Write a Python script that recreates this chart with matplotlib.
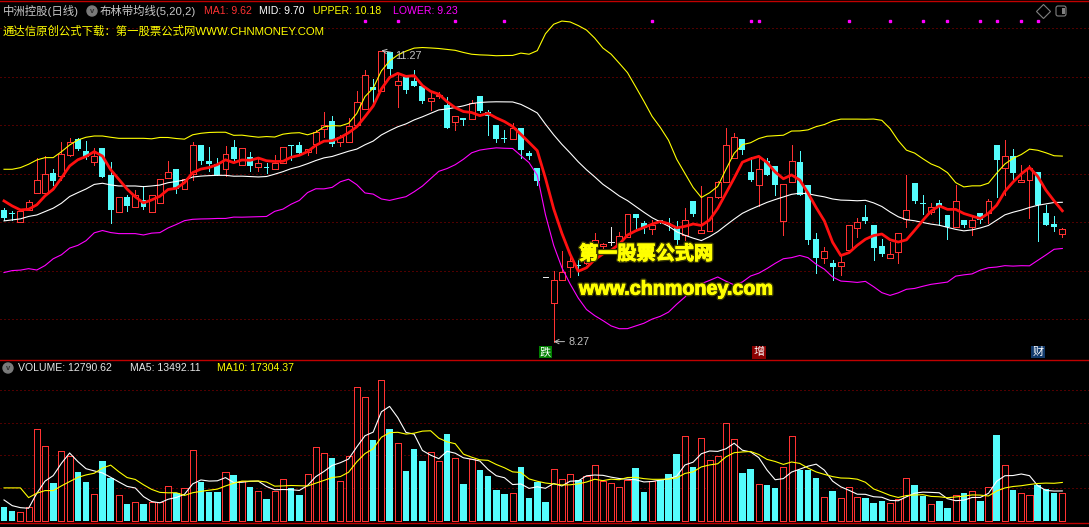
import numpy as np
import pandas as pd
import matplotlib
matplotlib.use('Agg')
import matplotlib.pyplot as plt
import matplotlib.transforms as mtransforms
import matplotlib.patheffects as pe
from matplotlib.patches import FancyBboxPatch, Circle

plt.rcParams['font.family'] = ['Liberation Sans', 'Noto Sans CJK SC', 'DejaVu Sans']

# daily candles (130 days)
opens = [9.63, 9.60, 9.50, 9.63, 9.80, 9.80, 10.01, 9.98, 10.19, 10.36,
         10.23, 10.12, 10.27, 9.99, 9.61, 9.76, 9.66, 9.73, 9.61, 9.70,
         9.96, 10.05, 9.84, 10.00, 10.30, 10.13, 10.10, 10.05, 10.28, 10.09,
         10.17, 10.07, 10.065, 10.05, 10.11, 10.30, 10.30, 10.22, 10.31, 10.46,
         10.54, 10.33, 10.33, 10.50, 10.67, 10.89, 10.85, 11.25, 10.91, 11.00,
         10.96, 10.90, 10.75, 10.80, 10.71, 10.53, 10.57, 10.56, 10.80, 10.64,
         10.50, 10.37, 10.355, 10.47, 10.21, 10.06, 8.94, 8.665, 8.906, 9.04,
         9.06, 9.08, 9.255, 9.255, 9.295, 9.265, 9.35, 9.59, 9.49, 9.43,
         9.52, 9.49, 9.45, 9.37, 9.72, 9.385, 9.41, 9.76, 9.91, 10.16,
         10.36, 10.02, 9.88, 10.135, 10.08, 9.51, 9.92, 10.125, 9.885, 9.325,
         9.13, 9.08, 9.05, 9.215, 9.44, 9.55, 9.47, 9.255, 9.13, 9.19,
         9.53, 9.90, 9.70, 9.61, 9.695, 9.575, 9.45, 9.525, 9.455, 9.60,
         9.60, 10.30, 10.055, 10.18, 9.92, 9.94, 10.02, 9.60, 9.48, 9.375]
highs = [9.65, 9.62, 9.62, 9.73, 10.16, 10.18, 10.05, 10.33, 10.37, 10.37,
         10.34, 10.27, 10.27, 10.12, 9.76, 9.78, 9.83, 9.87, 9.78, 9.95,
         10.13, 10.05, 9.95, 10.33, 10.30, 10.28, 10.16, 10.29, 10.35, 10.27,
         10.22, 10.15, 10.11, 10.19, 10.28, 10.30, 10.33, 10.25, 10.45, 10.64,
         10.59, 10.40, 10.57, 10.85, 11.07, 10.98, 11.27, 11.25, 11.03, 11.00,
         11.07, 10.90, 10.83, 10.84, 10.79, 10.59, 10.57, 10.76, 10.80, 10.66,
         10.50, 10.45, 10.52, 10.47, 10.23, 10.06, 8.94, 9.00, 9.20, 9.18,
         9.11, 9.20, 9.39, 9.29, 9.45, 9.40, 9.59, 9.59, 9.51, 9.52,
         9.52, 9.54, 9.51, 9.645, 9.72, 9.87, 9.76, 9.93, 10.47, 10.42,
         10.36, 10.175, 10.175, 10.16, 10.08, 9.89, 10.30, 10.23, 9.885, 9.39,
         9.25, 9.11, 9.16, 9.47, 9.54, 9.68, 9.47, 9.33, 9.30, 9.385,
         9.99, 9.90, 9.78, 9.695, 9.73, 9.575, 9.885, 9.525, 9.575, 9.60,
         9.74, 10.30, 10.35, 10.25, 10.09, 10.09, 10.02, 9.68, 9.565, 9.44]
lows = [9.52, 9.52, 9.50, 9.63, 9.80, 9.80, 9.88, 9.94, 10.18, 10.24,
        10.15, 10.09, 9.97, 9.49, 9.61, 9.62, 9.66, 9.64, 9.61, 9.70,
        9.96, 9.80, 9.84, 9.94, 10.10, 10.03, 9.99, 9.98, 10.14, 10.09,
        10.03, 10.03, 10.01, 10.05, 10.11, 10.14, 10.19, 10.19, 10.21, 10.38,
        10.29, 10.29, 10.33, 10.50, 10.67, 10.74, 10.85, 11.02, 10.69, 10.83,
        10.90, 10.73, 10.66, 10.78, 10.47, 10.45, 10.50, 10.56, 10.64, 10.40,
        10.33, 10.33, 10.355, 10.16, 10.15, 9.88, 8.94, 8.27, 8.906, 8.94,
        8.96, 9.07, 9.18, 9.18, 9.27, 9.265, 9.35, 9.44, 9.39, 9.38,
        9.49, 9.42, 9.28, 9.32, 9.56, 9.385, 9.41, 9.75, 9.91, 10.16,
        10.20, 9.925, 9.67, 9.99, 9.78, 9.37, 9.92, 9.78, 9.28, 8.98,
        9.08, 8.90, 8.96, 9.215, 9.35, 9.49, 9.11, 9.15, 9.13, 9.08,
        9.455, 9.70, 9.59, 9.59, 9.47, 9.325, 9.45, 9.455, 9.37, 9.49,
        9.49, 9.765, 9.78, 9.935, 9.92, 9.54, 9.31, 9.47, 9.41, 9.35]
closes = [9.54, 9.59, 9.62, 9.71, 9.94, 10.00, 9.93, 10.20, 10.33, 10.26,
          10.17, 10.18, 9.97, 9.63, 9.76, 9.67, 9.78, 9.66, 9.78, 9.95,
          10.02, 9.84, 9.95, 10.30, 10.13, 10.10, 9.99, 10.20, 10.15, 10.27,
          10.08, 10.11, 10.06, 10.11, 10.28, 10.29, 10.21, 10.25, 10.43, 10.50,
          10.31, 10.38, 10.49, 10.74, 11.02, 10.86, 11.26, 11.08, 10.955, 10.86,
          10.90, 10.75, 10.78, 10.81, 10.475, 10.59, 10.55, 10.73, 10.65, 10.595,
          10.355, 10.36, 10.475, 10.245, 10.18, 9.93, 8.94, 8.90, 8.985, 9.10,
          9.05, 9.12, 9.32, 9.275, 9.295, 9.36, 9.59, 9.54, 9.445, 9.47,
          9.495, 9.48, 9.32, 9.525, 9.59, 9.42, 9.76, 9.92, 10.30, 10.375,
          10.24, 9.935, 10.045, 9.99, 9.88, 9.89, 10.135, 9.78, 9.32, 9.13,
          9.20, 9.04, 9.095, 9.47, 9.505, 9.515, 9.23, 9.175, 9.175, 9.385,
          9.63, 9.72, 9.685, 9.655, 9.655, 9.45, 9.72, 9.47, 9.525, 9.525,
          9.72, 10.14, 10.18, 10.01, 9.94, 10.055, 9.68, 9.47, 9.455, 9.43]
volumes = [6383, 4383, 3768, 6075, 42064, 34220, 17149, 32067, 29760, 22378,
           17764, 12073, 27453, 19763, 11612, 7613, 8382, 7613, 8382, 8690,
           15765, 12535, 14842, 32375, 17764, 13150, 13150, 22224, 20994, 18379,
           15457, 13458, 9920, 13458, 18994, 14996, 11766, 21301, 33759, 30991,
           28838, 18072, 29760, 61443, 56829, 37143, 64827, 42218, 35605, 22839,
           32990, 27453, 31452, 27453, 39911, 28530, 16841, 28222, 23301, 20532,
           14073, 12227, 12535, 24685, 10382, 17764, 8690, 23608, 18994, 21301,
           18533, 20379, 25454, 18225, 17149, 15303, 18841, 24224, 13150, 18225,
           18533, 21455, 30683, 38834, 24685, 37912, 27761, 29760, 44833, 37450,
           21917, 23762, 16687, 16380, 14996, 24531, 38834, 23301, 23301, 19610,
           10689, 13611, 10228, 15303, 10689, 10382, 8075, 8997, 8075, 9920,
           19456, 16380, 11458, 7459, 8997, 5921, 11766, 12689, 13611, 8997,
           15457, 39450, 25454, 14073, 12535, 11612, 16380, 14534, 12689, 12790.62]

# indicator values at the left edge (they need days before the window)
ma5_head = [9.72, 9.668, 9.627, 9.634]
mid_head = [9.514, 9.524, 9.535, 9.56, 9.575, 9.61, 9.645, 9.696, 9.765, 9.805,
            9.843, 9.89, 9.902, 9.885, 9.874, 9.874, 9.874, 9.867, 9.874]
upper_head = [10.046, 10.046, 10.063, 10.098, 10.142, 10.166, 10.166, 10.227, 10.296, 10.348,
              10.376, 10.389, 10.389, 10.376, 10.365, 10.365, 10.365, 10.365, 10.36]
vol_ma5_head = [9461, 6830, 5907, 5630]
vol_ma10_head = [15000, 15000, 15000, 10522, 12553, 13753, 13753, 15922, 17906]

info_days = [44, 48, 55, 61, 79, 91, 92, 103, 108, 112, 115, 119, 121, 124, 126]
tag_days = [66, 92, 126]
tag_text = ['跌', '增', '财']
tag_colors = ['#008000', '#8b0000', '#123a6c']

stock_title = '中洲控股(日线)'
ind_title = '布林带均线(5,20,2)'
ind_values = ['MA1: 9.62', 'MID: 9.70', 'UPPER: 10.18', 'LOWER: 9.23']
vol_values = ['VOLUME: 12790.62', 'MA5: 13492.11', 'MA10: 17304.37']
ad_line = '通达信原创公式下载：第一股票公式网WWW.CHNMONEY.COM'

RED = '#ff3232'
CYAN = '#54fcfc'
GRID = '#a00000'
W = 1089
H = 527
PX = 0.72  # one pixel in points at dpi 100

o = np.array(opens)
h = np.array(highs)
l = np.array(lows)
c = np.array(closes)
v = np.array(volumes)
n = len(c)
x = np.arange(n)

cs = pd.Series(c)
ma5 = cs.rolling(5).mean().values
ma5[:4] = ma5_head
mid = cs.rolling(20).mean().values
sd = cs.rolling(20).std().values
upper = mid + 2 * sd
lower = mid - 2 * sd
mid[:19] = mid_head
upper[:19] = upper_head
lower[:19] = 2 * mid[:19] - np.array(upper_head)

vs = pd.Series(v)
vma5 = vs.rolling(5).mean().values
vma5[:4] = vol_ma5_head
vma10 = vs.rolling(10).mean().values
vma10[:9] = vol_ma10_head

fig = plt.figure(figsize=(W / 100, H / 100), dpi=100, facecolor='black')
xlim = (-4 / 8.204, (W - 4) / 8.204)

# ---- price panel ----
ax1 = fig.add_axes([0, 1 - 360 / H, 1, 358 / H])
ax1.set_facecolor('black')
ax1.set_xlim(*xlim)
ax1.set_ylim(8.0806, 11.7698)
ax1.axis('off')
for p in [11.5, 11.0, 10.5, 10.0, 9.5, 9.0, 8.5]:
    ax1.axhline(p, color=GRID, lw=PX, ls=(0, (1, 3)), zorder=0)

bw = 0.72
up = c > o
dn = c < o
fl = c == o
crisp = dict(antialiased=False, zorder=2)
ax1.vlines(x[up], np.maximum(o, c)[up], h[up], color=RED, lw=PX, **crisp)
ax1.vlines(x[up], l[up], np.minimum(o, c)[up], color=RED, lw=PX, **crisp)
ax1.bar(x[up], (c - o)[up], bottom=o[up], width=bw, facecolor='black',
        edgecolor=RED, lw=PX, **crisp)
ax1.vlines(x[dn], l[dn], h[dn], color=CYAN, lw=PX, **crisp)
ax1.bar(x[dn], (c - o)[dn], bottom=o[dn], width=bw, color=CYAN, lw=0, **crisp)
ax1.vlines(x[fl], l[fl], h[fl], color='#e8e8e8', lw=PX, **crisp)
ax1.hlines(c[fl], x[fl] - bw / 2, x[fl] + bw / 2, color='#e8e8e8', lw=PX, **crisp)

ax1.plot(x, upper, color='#ffff00', lw=0.8, zorder=3)
ax1.plot(x, mid, color='#ffffff', lw=0.8, zorder=3)
ax1.plot(x, lower, color='#ff00ff', lw=0.8, zorder=3)
ax1.plot(x, ma5, color='#ff1010', lw=2.0, zorder=4)

ihi = int(np.argmax(h))
ilo = int(np.argmin(l))
ax1.annotate('%.2f' % h[ihi], xy=(ihi, h[ihi]), xytext=(14, -5), textcoords='offset pixels',
             color='#c0c0c0', fontsize=7.8, ha='left', va='center',
             arrowprops=dict(arrowstyle='->', color='#c0c0c0', lw=0.7, shrinkA=1, shrinkB=0))
ax1.annotate('%.2f' % l[ilo], xy=(ilo, l[ilo]), xytext=(15, 0), textcoords='offset pixels',
             color='#c0c0c0', fontsize=7.8, ha='left', va='center',
             arrowprops=dict(arrowstyle='->', color='#c0c0c0', lw=0.7, shrinkA=1, shrinkB=0))

tr1 = mtransforms.blended_transform_factory(ax1.transData, ax1.transAxes)
for d, t, col in zip(tag_days, tag_text, tag_colors):
    ax1.text(d, 0.022, t, transform=tr1, color='white', fontsize=8, ha='center', va='center',
             family=['Noto Sans CJK SC'],
             bbox=dict(boxstyle='square,pad=0.12', fc=col, ec='none'))
ax1.plot(info_days, [0.947] * len(info_days), 's', ms=1.6, color='#ff00ff',
         transform=tr1, zorder=5)

# ---- volume panel ----
ax2 = fig.add_axes([0, 4 / H, 1, 163 / H])
ax2.set_facecolor('black')
ax2.set_xlim(*xlim)
ax2.set_ylim(-1150, 73830)
ax2.axis('off')
for g in [15000, 30000, 45000, 60000]:
    ax2.axhline(g, color=GRID, lw=PX, ls=(0, (1, 3)), zorder=0)
prev = np.r_[c[0], c[:-1]]
vup = (c > o) | ((c == o) & (c >= prev))
ax2.bar(x[vup], v[vup], width=0.74, facecolor='black', edgecolor=RED, lw=PX, **crisp)
ax2.bar(x[~vup], v[~vup], width=0.8, color=CYAN, lw=0, **crisp)
ax2.plot(x, vma5, color='#ffffff', lw=0.8, zorder=3)
ax2.plot(x, vma10, color='#ffff00', lw=0.8, zorder=3)

# ---- overlay in pixel coordinates: frame lines, headers, watermark ----
ov = fig.add_axes([0, 0, 1, 1], zorder=10)
ov.set_xlim(0, W)
ov.set_ylim(H, 0)
ov.axis('off')
ov.patch.set_alpha(0)
for yy in [1, 360, 523]:
    ov.axhline(yy, color='#c00000', lw=1.0)

fs = 7.6
ov.text(3, 11, stock_title, color='#c8c8c8', fontsize=8.2, va='center')
ov.add_patch(Circle((92, 11), 5, color='#7a7a7a'))
ov.text(92, 11.5, 'v', color='#303030', fontsize=5.5, ha='center', va='center', weight='bold')
ov.text(100, 11, ind_title, color='#c8c8c8', fontsize=8.2, va='center')
for xx, t, col in zip([204, 259, 313, 393], ind_values, ['#ff3232', '#ffffff', '#ffff00', '#ff00ff']):
    ov.text(xx, 11, t, color=col, fontsize=fs, va='center')
ov.text(3, 31, ad_line, color='#ffff00', fontsize=8.2, va='center')

ov.plot([1043], [11], 'D', ms=7, mfc='none', mec='#808080', mew=0.8)
ov.add_patch(FancyBboxPatch((1056, 6), 10, 10, boxstyle='round,pad=0,rounding_size=2',
                            fc='none', ec='#808080', lw=0.8))
ov.add_patch(FancyBboxPatch((1062, 8), 3, 6, boxstyle='square,pad=0', fc='#808080', ec='none'))

ov.add_patch(Circle((8, 368), 5, color='#7a7a7a'))
ov.text(8, 368.5, 'v', color='#303030', fontsize=5.5, ha='center', va='center', weight='bold')
for xx, t, col in zip([18, 130, 217], vol_values, ['#e6e6e6', '#e6e6e6', '#ffff00']):
    ov.text(xx, 368, t, color=col, fontsize=fs, va='center')

shadow = [pe.withStroke(linewidth=2.6, foreground='#3a3a00'),
          pe.withStroke(linewidth=0.7, foreground='#ffff00')]
ov.text(579, 254, '第一股票公式网', color='#ffff00', fontsize=13.8, va='center',
        family=['Noto Sans CJK SC'], weight='bold', path_effects=shadow)
ov.text(579, 289, 'www.chnmoney.com', color='#ffff00', fontsize=14.2, va='center',
        weight='bold', path_effects=shadow)

fig.savefig('out.png', dpi=100, facecolor='black')
